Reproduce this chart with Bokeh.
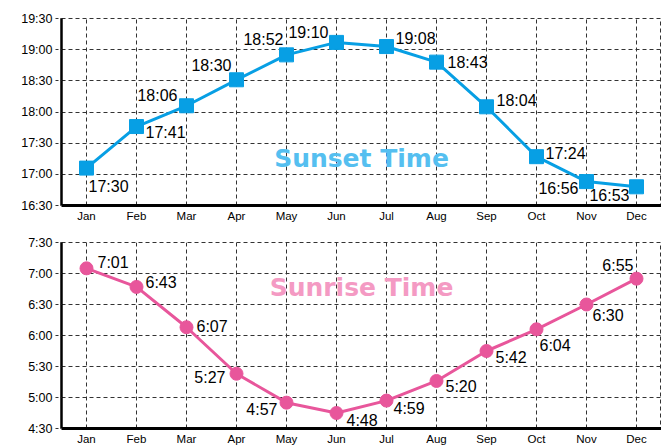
from bokeh.plotting import figure
from bokeh.layouts import column
from bokeh.models import FactorRange, Range1d, FixedTicker, ColumnDataSource
from bokeh.core.properties import value
from bokeh.embed import file_html
from bokeh.resources import INLINE

months = ["Jan", "Feb", "Mar", "Apr", "May", "Jun", "Jul", "Aug", "Sep", "Oct", "Nov", "Dec"]

# plotted positions (as drawn) and the printed labels
sunset_times = ["17:06", "17:46", "18:06", "18:31", "18:55", "19:07", "19:03", "18:48", "18:05", "17:17", "16:53", "16:48"]
sunset_labels = ["17:30", "17:41", "18:06", "18:30", "18:52", "19:10", "19:08", "18:43", "18:04", "17:24", "16:56", "16:53"]
sunrise_times = ["7:05", "6:47", "6:08", "5:23", "4:55", "4:45", "4:57", "5:16", "5:45", "6:06", "6:30", "6:55"]
sunrise_labels = ["7:01", "6:43", "6:07", "5:27", "4:57", "4:48", "4:59", "5:20", "5:42", "6:04", "6:30", "6:55"]

sunset_ticks = ["16:30", "17:00", "17:30", "18:00", "18:30", "19:00", "19:30"]
sunrise_ticks = ["4:30", "5:00", "5:30", "6:00", "6:30", "7:00", "7:30"]

# label placement (pixels; dy positive = down)
sunset_dx = [2, 9, -9, -5, -3, -8, 9, 11, 10, 9, -8, -7]
sunset_dy = [18, 6, -10, -14, -15, -10, -8, 0, -6, -3, 7, 9]
sunset_align = ["left", "left", "right", "right", "right", "right", "left", "left", "left", "left", "right", "right"]
sunrise_dx = [11, 9, 10, -11, -9, 10, 7, 9, 9, 3, 6, -3]
sunrise_dy = [-6, -4, -1, 4, 7, 7, 8, 6, 6, 16, 11, -13]
sunrise_align = ["left", "left", "left", "right", "right", "left", "left", "left", "left", "left", "left", "right"]


def to_min(s):
    h, m = s.split(":")
    return int(h) * 60 + int(m)


FONT = "Liberation Sans"


def make(times, labels, ticks, dx, dy, align, color, marker, msize, title, title_color, title_y,
         height, border_top, border_bottom):
    ys = [to_min(t) for t in times]
    tick_vals = [to_min(t) for t in ticks]
    p = figure(x_range=FactorRange(*months, range_padding=0),
               y_range=Range1d(tick_vals[0], tick_vals[-1]),
               width=661, height=height, output_backend="svg", toolbar_location=None,
               min_border_left=61, min_border_right=0, min_border_top=border_top,
               min_border_bottom=border_bottom)
    p.background_fill_color = "white"
    p.border_fill_color = "white"
    p.outline_line_color = "#333333"
    p.outline_line_dash = "4 3"
    p.outline_line_width = 1

    p.yaxis.ticker = FixedTicker(ticks=tick_vals)
    p.yaxis.major_label_overrides = {v: t for v, t in zip(tick_vals, ticks)}
    for g in (p.xgrid, p.ygrid):
        g.grid_line_color = "#333333"
        g.grid_line_dash = "4 3"
        g.grid_line_width = 1
    p.ygrid.ticker = FixedTicker(ticks=tick_vals)

    p.yaxis.axis_line_width = 2.5
    p.yaxis.axis_line_color = "black"
    p.yaxis.major_tick_in = 0
    p.yaxis.major_tick_out = 6
    p.yaxis.major_tick_line_color = "#333333"
    p.yaxis.major_tick_line_dash = "3 2"
    p.yaxis.minor_tick_line_color = None
    p.yaxis.major_label_text_font = FONT
    p.yaxis.major_label_text_font_size = "12.5px"
    p.yaxis.major_label_text_color = "black"
    p.yaxis.major_label_standoff = 3

    p.xaxis.axis_line_width = 3
    p.xaxis.axis_line_color = "black"
    p.xaxis.major_tick_in = 0
    p.xaxis.major_tick_out = 0
    p.xaxis.major_label_text_font = FONT
    p.xaxis.major_label_text_font_size = "11.5px"
    p.xaxis.major_label_text_color = "black"
    p.xaxis.major_label_standoff = 4

    src = ColumnDataSource(dict(x=months, y=ys, lab=labels, dx=dx, dy=dy, al=align))
    p.line("x", "y", source=src, line_color=color, line_width=3)
    p.scatter("x", "y", source=src, marker=marker, size=msize, fill_color=color, line_color=color)
    p.text("x", "y", text="lab", source=src, x_offset="dx", y_offset="dy", text_align="al",
           text_baseline="middle", text_font=value(FONT), text_font_size="16px", text_color="black")
    p.text(x=[6.0], y=[title_y], text=[title], text_align="center", text_baseline="middle",
           text_font=value("DejaVu Sans"), text_font_style="bold", text_font_size="25px",
           text_color=title_color)
    return p


p1 = make(sunset_times, sunset_labels, sunset_ticks, sunset_dx, sunset_dy, sunset_align,
          "#079fe4", "square", 14, "Sunset Time", "#55bff0", 1035, 224, 18, 19)
p2 = make(sunrise_times, sunrise_labels, sunrise_ticks, sunrise_dx, sunrise_dy, sunrise_align,
          "#e8569b", "circle", 13, "Sunrise Time", "#f49ac3", 406, 223, 18, 17)

layout = column(p1, p2, spacing=0)
open("out.html", "w").write(file_html(layout, INLINE))
